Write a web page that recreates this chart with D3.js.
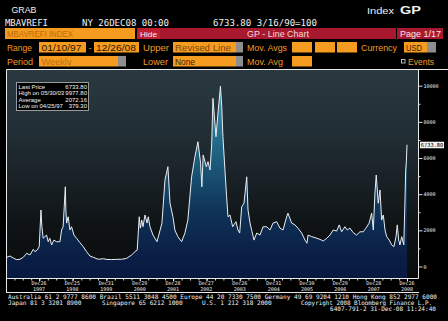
<!DOCTYPE html>
<html><head><meta charset="utf-8">
<script src="https://cdn.jsdelivr.net/npm/d3@7"></script>
<style>html,body{margin:0;padding:0;background:#000;overflow:hidden}svg{display:block}</style>
</head><body><svg id="c" width="448" height="321"></svg>
<script>
// ---- data (MBA Refinance Index, weekly) ----
const dates = ["1997-01-10","1997-02-11","1997-03-19","1997-04-25","1997-06-01","1997-07-07","1997-08-13","1997-09-18","1997-10-24","1997-11-11","1997-12-06","1997-12-28",
"1998-01-16","1998-01-26","1998-02-09","1998-03-18","1998-04-05","1998-04-23","1998-05-12","1998-06-06","1998-07-05","1998-08-11","1998-08-29","1998-09-15","1998-10-09","1998-10-15","1998-10-23","1998-11-09","1998-11-28","1998-12-16",
"1999-01-11","1999-02-09","1999-03-17","1999-04-22","1999-05-29","1999-07-04","1999-08-09","1999-10-03","1999-11-27",
"2000-01-07","2000-02-26","2000-04-20","2000-06-14","2000-08-08","2000-10-02","2000-11-07","2000-12-02","2000-12-24",
"2001-01-05","2001-01-20","2001-02-03","2001-02-25","2001-03-19","2001-04-02","2001-04-20","2001-05-23","2001-07-06","2001-08-08","2001-08-29","2001-10-01","2001-11-02","2001-11-25","2001-12-27",
"2002-01-18","2002-02-19","2002-04-01","2002-05-07","2002-06-08","2002-07-19","2002-08-24","2002-09-26","2002-10-25","2002-11-08","2002-11-22","2002-12-27",
"2003-01-14","2003-02-05","2003-02-23","2003-03-09","2003-04-11","2003-05-03","2003-05-30","2003-06-13","2003-06-26","2003-07-18","2003-08-05","2003-08-20","2003-09-11","2003-10-10","2003-11-15","2003-12-07","2003-12-26",
"2004-01-17","2004-02-11","2004-03-12","2004-03-26","2004-04-17","2004-05-05","2004-05-30","2004-06-29","2004-08-04","2004-09-06","2004-10-16","2004-11-21","2004-12-24",
"2005-02-02","2005-03-10","2005-04-12","2005-05-22","2005-06-05","2005-07-15","2005-08-21","2005-09-22","2005-11-02","2005-12-08","2005-12-30",
"2006-01-10","2006-02-19","2006-03-27","2006-05-21","2006-06-26","2006-08-02","2006-09-07","2006-10-13","2006-11-19","2006-12-17",
"2007-01-12","2007-02-17","2007-03-14","2007-04-13","2007-05-19","2007-06-25","2007-07-31","2007-09-05","2007-10-04","2007-11-09","2007-12-06","2007-12-24",
"2008-01-11","2008-01-25","2008-02-16","2008-03-06","2008-03-24","2008-04-11","2008-04-30","2008-05-18","2008-06-15","2008-07-12","2008-08-06","2008-08-28","2008-09-11","2008-09-26","2008-10-10","2008-10-29","2008-11-21","2008-12-05","2008-12-12","2008-12-19","2008-12-26"];
const values = [510,580,470,379.3,400,510,730,640,950,820,910,1100,
3125,2200,1560,1740,1370,1560,1190,1460,1370,1370,2020,2200,4410,3125,2400,2750,2020,2200,
1740,1560,1320,1100,820,580,510,400,430,
390,385,395,400,450,640,820,910,2750,
2120,2570,2200,2850,2400,2750,2200,1740,1370,2000,2400,4780,5520,3500,2750,
2000,1650,1370,1850,2570,4960,6070,6900,5720,4410,6170,5520,
5800,5340,6720,9300,7180,8490,9977.8,8850,7180,5340,3860,2750,2850,2200,2480,2020,1850,
3310,3500,4960,3125,2400,2000,1460,1850,1740,2200,2200,2020,2400,
2480,2120,2020,2750,2950,2400,2300,2120,1850,1460,1290,
1740,1650,1600,1500,1410,1560,1740,2020,1960,2300,
1920,2200,2020,2120,1870,1740,1920,1920,2120,2400,2950,2020,
4050,5060,3500,4230,2570,2850,2020,1650,1460,1190,1100,1650,2300,1460,1190,1650,1190,3860,5340,5800,6733.8];
const yTicks = [0,2000,4000,6000,8000,10000];
const yMinorTicks = [1000,3000,5000,7000,9000];
const xTickDates = ["1997-12-26","1998-12-25","1999-12-31","2000-12-29","2001-12-28","2002-12-27","2003-12-26","2004-12-31","2005-12-30","2006-12-29","2007-12-28","2008-12-26"];
const xTickDays = ["Dec26","Dec25","Dec31","Dec29","Dec28","Dec27","Dec26","Dec31","Dec30","Dec29","Dec28","Dec26"];
const xTickYears = ["1997","1998","1999","2000","2001","2002","2003","2004","2005","2006","2007","2008"];
const statsLabels = ["Last Price","High on 05/30/03","Average","Low on 04/25/97"];
const statsValues = ["6733.80","9977.80","2072.16","379.30"];
const lastLabel = "6733.80";

const parse = d3.timeParse("%Y-%m-%d");
const series = dates.map((d,i)=>({date:parse(d), value:values[i]}));

const svg = d3.select("#c");
const W=448,H=321;
svg.append("rect").attr("width",W).attr("height",H).attr("fill","#000");

const defs = svg.append("defs");
const P = {l:7, r:418, t:70, b:278};
const bg = defs.append("linearGradient").attr("id","bg").attr("gradientUnits","userSpaceOnUse")
  .attr("x1",0).attr("x2",0).attr("y1",P.t).attr("y2",P.b);
[[0,"#2a3940"],[0.3,"#222e35"],[0.55,"#182025"],[0.75,"#0f1315"],[1,"#0a0b0c"]].forEach(s=>bg.append("stop").attr("offset",s[0]).attr("stop-color",s[1]));
const fg = defs.append("linearGradient").attr("id","fg").attr("gradientUnits","userSpaceOnUse")
  .attr("x1",0).attr("x2",0).attr("y1",85).attr("y2",P.b);
[[0,"#3a92b2"],[0.35,"#1f6282"],[0.65,"#0f3458"],[0.85,"#0b2148"],[1,"#081940"]].forEach(s=>fg.append("stop").attr("offset",s[0]).attr("stop-color",s[1]));
defs.append("clipPath").attr("id","clip").append("rect").attr("x",P.l).attr("y",P.t).attr("width",P.r-P.l).attr("height",P.b-P.t);

svg.append("rect").attr("x",P.l).attr("y",P.t).attr("width",P.r-P.l).attr("height",P.b-P.t).attr("fill","url(#bg)");

const x = d3.scaleTime().domain([parse("1997-01-10"),parse("2008-12-26")]).range([7,407]);
const y = d3.scaleLinear().domain([0,10000]).range([266.5,85.7]);

const g = svg.append("g").attr("clip-path","url(#clip)");
g.append("path").datum(series).attr("fill","url(#fg)")
  .attr("d", d3.area().x(d=>x(d.date)).y0(P.b).y1(d=>y(d.value)));
g.append("path").datum(series).attr("fill","none").attr("stroke","#e8eef2").attr("stroke-width",1)
  .attr("d", d3.line().x(d=>x(d.date)).y(d=>y(d.value)));

// frame lines
const wl = (x1,y1,x2,y2)=>svg.append("line").attr("x1",x1).attr("y1",y1).attr("x2",x2).attr("y2",y2).attr("stroke","#e8e8e8").attr("stroke-width",1);
wl(6.5,69.5,448,69.5);
wl(6.5,69.5,6.5,293);
wl(418.5,69.5,418.5,278.5);
wl(6.5,292.5,419,292.5);

// y axis (right)
const ya = svg.append("g").attr("transform","translate(418.5,0)")
  .call(d3.axisRight(y).tickValues(yTicks).tickSize(4).tickPadding(1).tickFormat(d3.format("d")));
ya.select(".domain").remove();
ya.selectAll("line").attr("stroke","#ddd");
ya.selectAll("text").attr("fill","#eee").attr("font-size","5px").attr("font-family","DejaVu Sans Mono");
const ym = svg.append("g").attr("transform","translate(418.5,0)")
  .call(d3.axisRight(y).tickValues(yMinorTicks).tickSize(2).tickFormat(""));
ym.select(".domain").remove(); ym.selectAll("line").attr("stroke","#ddd");

// last price label
const ly = y(values[values.length-1]);
svg.append("rect").attr("x",420).attr("y",ly-3).attr("width",24).attr("height",6.5).attr("fill","#f4f4f4");
svg.append("text").attr("x",432).attr("y",ly+2.2).attr("text-anchor","middle").attr("font-size","5.3px")
  .attr("font-family","DejaVu Sans Mono").attr("fill","#000").text(lastLabel);

// x axis
const xa = svg.append("g").attr("transform","translate(0,278.5)")
  .call(d3.axisBottom(x).ticks(d3.timeMonth.every(3)).tickSize(2).tickFormat(""));
xa.select(".domain").attr("stroke","#e8e8e8").attr("d","M6.5,0H418.5");
xa.selectAll("line").attr("stroke","#ddd");
const xm = svg.append("g").attr("transform","translate(0,278.5)")
  .call(d3.axisBottom(x).tickValues(xTickDates.map(parse)).tickSize(3).tickFormat(""));
xm.select(".domain").remove(); xm.selectAll("line").attr("stroke","#eee");
xTickDates.forEach((d,i)=>{
  const xx = x(parse(d));
  svg.append("text").attr("x",xx).attr("y",284.5).attr("text-anchor","middle").attr("font-size","5px")
    .attr("font-family","DejaVu Sans Mono").attr("fill","#eee").text(xTickDays[i]);
  svg.append("text").attr("x",xx).attr("y",290.5).attr("text-anchor","middle").attr("font-size","5px")
    .attr("font-family","DejaVu Sans Mono").attr("fill","#eee").text(xTickYears[i]);
});

// stats box
svg.append("rect").attr("x",16.5).attr("y",82.5).attr("width",72).attr("height",28).attr("fill","#000").attr("stroke","#9a9a9a");
statsLabels.forEach((s,i)=>{
  const yy = 89 + i*6.25;
  svg.append("text").attr("x",18.5).attr("y",yy).attr("font-size","6px").attr("font-family","Liberation Sans").attr("fill","#f4f4f4").text(s);
  svg.append("text").attr("x",87).attr("y",yy).attr("text-anchor","end").attr("font-size","6px").attr("font-family","Liberation Sans").attr("fill","#f4f4f4").text(statsValues[i]);
});

// ---- header ----
const T = (tx,xx,yy,opt={})=>{
  const t = svg.append("text").attr("x",xx).attr("y",yy).attr("font-size",opt.size||"9px")
    .attr("font-family",opt.font||"Liberation Sans").attr("fill",opt.fill||"#f0f0f0").text(tx);
  if(opt.bold) t.attr("font-weight","bold");
  if(opt.len){ t.attr("textLength",opt.len).attr("lengthAdjust","spacingAndGlyphs"); }
  if(opt.anchor) t.attr("text-anchor",opt.anchor);
  return t;
};
const R = (xx,yy,w,h,fill)=>svg.append("rect").attr("x",xx).attr("y",yy).attr("width",w).attr("height",h).attr("fill",fill);
const OR="#f59b1f", LAB="#f09a28", GR="#8e8e8e";

T("GRAB",11.5,12.5,{size:"9px",len:25});
T("MBAVREFI",5,26,{font:"DejaVu Sans Mono",size:"9px",len:43});
T("NY 26DEC08 00:00",82,26,{font:"DejaVu Sans Mono",size:"9px",len:87});
T("6733.80 3/16/90=100",213,26,{font:"DejaVu Sans Mono",size:"9px",len:104});
T("Index",367,14,{size:"9px",len:27});
T("GP",400,14,{size:"10px",bold:true,len:21});

// row 1
R(5,28,130,11,OR);
T("MBAVREFI INDEX",7,37,{size:"9px",fill:"#c06a08",len:66});
R(137,28,259,11,"#a8182e");
R(137,28,23,11,"#c01e30");
T("Hide",140,36.5,{size:"8px",len:17});
T("GP - Line Chart",247,36.5,{size:"8.5px",fill:"#f4d8d8",len:62});
R(397,28,46,11,"#a8182e");
T("Page 1/17",400,36.5,{size:"8.5px",fill:"#f4e8e8",len:41});

// row 2
T("Range",7,50.5,{fill:LAB,len:25});
R(39,42,47,10.5,OR); T("01/10/97",41.5,50.5,{fill:"#2a1800",len:40});
T("-",88.5,50.5,{fill:LAB});
R(94,42,45,10.5,OR); T("12/26/08",96,50.5,{fill:"#2a1800",len:40});
T("Upper",143,50.5,{fill:LAB,len:26});
R(173,42,63,10.5,OR); R(236,42,7,10.5,GR); T("Revised Line",175,50.5,{fill:"#7a4a10",len:56});
T("Mov. Avgs",247,50.5,{fill:LAB,len:40});
R(292,42,20,10.5,OR); R(315,42,20,10.5,OR); R(337,42,20,10.5,OR);
T("Currency",361,50.5,{fill:LAB,len:36});
R(404,42,23,10.5,OR); R(427,42,9,10.5,GR); T("USD",406,50.5,{fill:"#3a2200",len:16});

// row 3
T("Period",7,64.5,{fill:LAB,len:26});
R(39,56,79,10.5,OR); R(118,56,8,10.5,GR); T("Weekly",41.5,64.5,{fill:"#b87018",len:30});
T("Lower",143,64.5,{fill:LAB,len:25});
R(173,56,63,10.5,OR); R(236,56,7,10.5,GR); T("None",175,64.5,{fill:"#3a2200",len:20});
T("Mov. Avg",247,64.5,{fill:LAB,len:36});
R(292,56,20,10.5,OR);
svg.append("rect").attr("x",401.5).attr("y",59.5).attr("width",3.5).attr("height",3.5).attr("fill","none").attr("stroke","#ddd").attr("stroke-width",0.8);
T("Events",408,64.5,{fill:LAB,len:26});

// footer
const F = (tx,xx,yy,len)=>T(tx,xx,yy,{font:"DejaVu Sans Mono",size:"6.1px",fill:"#f0f0f0",len:len});
F("Australia 61 2 9777 8600 Brazil 5511 3048 4500 Europe 44 20 7330 7500 Germany 49 69 9204 1210 Hong Kong 852 2977 6000",8,299,429);
F("Japan 81 3 3201 8900",8,305);
F("Singapore 65 6212 1000",102,305);
F("U.S. 1 212 318 2000",202,305);
F("Copyright 2008 Bloomberg Finance L.P.",301,305,131);
F("6407-791-2 31-Dec-08 11:24:40",330,311,106);
</script></body></html>
